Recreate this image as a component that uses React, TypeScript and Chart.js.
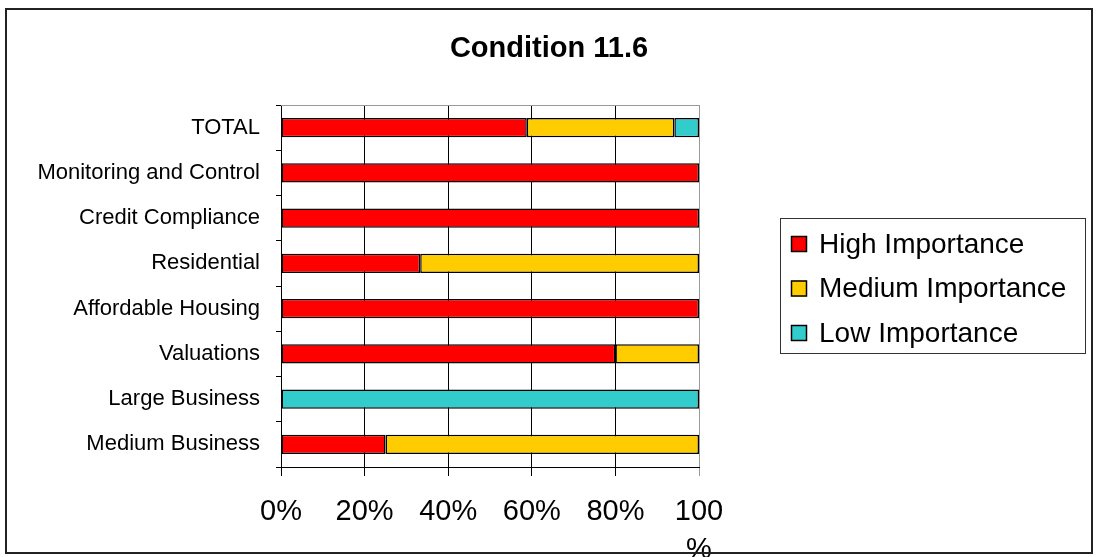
import React, { useEffect, useRef } from "react";
import { Chart, registerables } from "chart.js";

Chart.register(...registerables);

const TITLE = "Condition 11.6";
const categories = [
  "TOTAL",
  "Monitoring and Control",
  "Credit Compliance",
  "Residential",
  "Affordable Housing",
  "Valuations",
  "Large Business",
  "Medium Business",
];
const highImportance = [58.8, 100, 100, 33.3, 100, 80, 0, 25];
const mediumImportance = [35.3, 0, 0, 66.7, 0, 20, 0, 75];
const lowImportance = [5.9, 0, 0, 0, 0, 0, 100, 0];
const seriesNames = ["High Importance", "Medium Importance", "Low Importance"];
const seriesColors = ["#FF0000", "#FFCC00", "#33CCCC"];
const xTicks = [0, 20, 40, 60, 80, 100];

const FONT = "'Liberation Sans', Arial, Helvetica, sans-serif";

const framePlugin = {
  id: "frameAndExtras",
  beforeDraw(chart: any) {
    const { ctx, width, height } = chart;
    ctx.save();
    ctx.fillStyle = "#fff";
    ctx.fillRect(0, 0, width, height);
    ctx.restore();
  },
  afterDraw(chart: any) {
    const { ctx, chartArea } = chart;
    ctx.save();
    // outer frame
    ctx.strokeStyle = "#222";
    ctx.lineWidth = 2;
    ctx.strokeRect(6, 9, 1086, 544);
    // plot area top border
    ctx.strokeStyle = "#999";
    ctx.lineWidth = 1;
    ctx.beginPath();
    ctx.moveTo(chartArea.left, Math.round(chartArea.top) + 0.5);
    ctx.lineTo(chartArea.right, Math.round(chartArea.top) + 0.5);
    ctx.stroke();
    // title
    ctx.fillStyle = "#000";
    ctx.font = `bold 29px ${FONT}`;
    ctx.textAlign = "center";
    ctx.textBaseline = "middle";
    ctx.fillText(TITLE, 549, 49);
    // legend
    ctx.strokeStyle = "#333";
    ctx.lineWidth = 1;
    ctx.strokeRect(780.5, 218.5, 305, 135);
    chart.data.datasets.forEach((ds: any, i: number) => {
      const cy = 244 + i * 44.5;
      ctx.fillStyle = ds.backgroundColor;
      ctx.fillRect(791, cy - 8, 16, 16);
      ctx.strokeStyle = "#000";
      ctx.lineWidth = 1.5;
      ctx.strokeRect(791.5, cy - 7.5, 15, 15);
      ctx.fillStyle = "#000";
      ctx.font = `28px ${FONT}`;
      ctx.textAlign = "left";
      ctx.textBaseline = "middle";
      ctx.fillText(ds.label, 819, cy + 1);
    });
    ctx.restore();
  },
};

export default function App() {
  const ref = useRef<HTMLCanvasElement | null>(null);
  useEffect(() => {
    document.body.style.margin = "0";
    const series = [highImportance, mediumImportance, lowImportance];
    const chart = new Chart(ref.current as HTMLCanvasElement, {
      type: "bar",
      data: {
        labels: categories,
        datasets: series.map((vals, i) => ({
          label: seriesNames[i],
          data: vals.map((v) => (v === 0 ? null : v)),
          backgroundColor: seriesColors[i],
          borderColor: "#000",
          borderWidth: 1.5,
          borderSkipped: false,
          barPercentage: 0.42,
          categoryPercentage: 1,
        })),
      },
      options: {
        indexAxis: "y",
        animation: false,
        responsive: false,
        maintainAspectRatio: false,
        layout: { padding: { top: 105, right: 398, left: 0, bottom: 0 } },
        plugins: {
          legend: { display: false },
          title: { display: false },
          tooltip: { enabled: false },
        },
        scales: {
          x: {
            stacked: true,
            min: 0,
            max: 100,
            afterFit: (scale: any) => {
              scale.height = 90;
            },
            afterBuildTicks: (scale: any) => {
              scale.ticks = xTicks.map((v) => ({ value: v }));
            },
            ticks: {
              color: "#000",
              font: { family: FONT, size: 29, lineHeight: 1.3 },
              padding: 17,
              maxRotation: 0,
              autoSkip: false,
              callback: (v: any) => (Number(v) === 100 ? ["100", "%"] : v + "%"),
            },
            grid: {
              color: (ctx: any) => (ctx.tick && ctx.tick.value === 100 ? "#999" : "#000"),
              tickLength: 9,
              lineWidth: 1,
            },
            border: { color: "#000", width: 1 },
          },
          y: {
            stacked: true,
            afterFit: (scale: any) => {
              scale.width = 281;
            },
            ticks: {
              color: "#000",
              font: { family: FONT, size: 22 },
              padding: 16,
              autoSkip: false,
            },
            grid: {
              offset: true,
              drawOnChartArea: false,
              tickLength: 5,
              color: "#000",
            },
            border: { color: "#000", width: 1 },
          },
        },
      },
      plugins: [framePlugin],
    } as any);
    return () => chart.destroy();
  }, []);
  return (
    <div style={{ width: 1097, height: 557 }}>
      <canvas ref={ref} width={1097} height={557} style={{ display: "block" }} />
    </div>
  );
}
